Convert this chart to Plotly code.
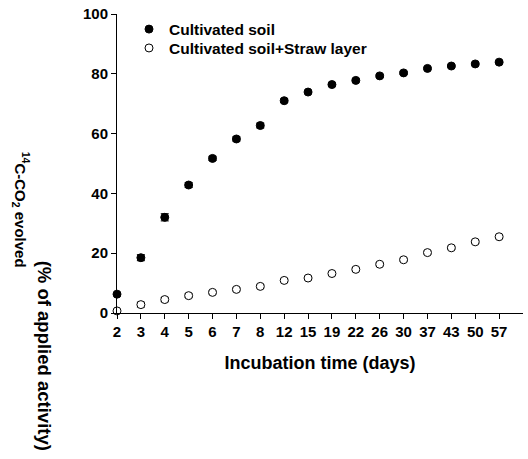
import plotly.graph_objects as go

days = ["2", "3", "4", "5", "6", "7", "8", "12", "15", "19", "22", "26", "30", "37", "43", "50", "57"]
cultivated = [6.3, 18.5, 32.0, 42.8, 51.7, 58.2, 62.7, 71.0, 73.9, 76.4, 77.8, 79.3, 80.3, 81.8, 82.6, 83.3, 83.9]
cultivated_err = [0.6, 1.0, 1.2, 0.8, 0.7, 0.7, 0.8, 0.6, 0.5, 0.5, 0.5, 0.5, 0.5, 0.4, 0.4, 0.4, 0.4]
straw = [0.7, 2.8, 4.5, 5.8, 6.9, 7.9, 8.9, 10.9, 11.7, 13.2, 14.6, 16.3, 17.8, 20.2, 21.8, 23.8, 25.5]
straw_err = [0.4, 0.8, 0.7, 0.6, 0.5, 0.5, 0.5, 0.5, 0.5, 0.5, 0.5, 0.5, 0.5, 0.5, 0.5, 0.5, 0.5]
yticks = [0, 20, 40, 60, 80, 100]

FONT = "Liberation Sans, Arial, sans-serif"
L, T, W, H = 117, 12, 406, 301


def px(xp):
    return (xp - L) / W


def py(yp):
    return (T + H - yp) / H


fig = go.Figure()
fig.add_trace(go.Scatter(
    x=days, y=cultivated, mode="markers", name="Cultivated soil", legend="legend",
    marker=dict(symbol="circle", size=8, color="black", line=dict(color="black", width=1)),
    error_y=dict(type="data", array=cultivated_err, visible=True, color="black", thickness=1, width=4),
    cliponaxis=False,
))
fig.add_trace(go.Scatter(
    x=days, y=straw, mode="markers", name="Cultivated soil+Straw layer", legend="legend2",
    marker=dict(symbol="circle", size=8, color="white", line=dict(color="black", width=1)),
    error_y=dict(type="data", array=straw_err, visible=True, color="black", thickness=1, width=4),
    cliponaxis=False,
))

leg_common = dict(xanchor="left", yanchor="top", bgcolor="rgba(0,0,0,0)",
                  font=dict(size=15.5, weight="bold"))

fig.update_layout(
    width=528, height=459,
    margin=dict(l=L, r=528 - L - W, t=T, b=459 - T - H),
    plot_bgcolor="white", paper_bgcolor="white",
    font=dict(family=FONT, size=15, color="black", weight="bold"),
    showlegend=True,
    legend=dict(x=px(129), y=py(10.5), **leg_common),
    legend2=dict(x=px(129), y=py(29.5), **leg_common),
    xaxis=dict(
        type="category", categoryorder="array", categoryarray=days,
        range=[0, 17], showgrid=False, zeroline=False,
        showline=True, linecolor="black", linewidth=1,
        ticks="outside", ticklen=5, tickcolor="black", tickwidth=1,
        tickfont=dict(size=15, weight="bold"),
        title=dict(text="Incubation time (days)", font=dict(size=18, weight="bold"), standoff=17),
    ),
    yaxis=dict(
        range=[0, 100], tickvals=yticks, showgrid=False, zeroline=False,
        showline=True, linecolor="black", linewidth=1,
        ticks="outside", ticklen=5, tickcolor="black", tickwidth=1,
        tickfont=dict(size=15, weight="bold"),
    ),
    annotations=[
        dict(text="<sup>14</sup>C-CO<sub>2</sub> evolved", textangle=90,
             xref="paper", yref="paper", x=px(21), y=py(209),
             xanchor="center", yanchor="middle", showarrow=False,
             font=dict(size=15, weight="bold")),
        dict(text="(% of applied activity)", textangle=90,
             xref="paper", yref="paper", x=px(44), y=py(356),
             xanchor="center", yanchor="middle", showarrow=False,
             font=dict(size=18.5, weight="bold")),
    ],
)

fig.write_html("out.html")
